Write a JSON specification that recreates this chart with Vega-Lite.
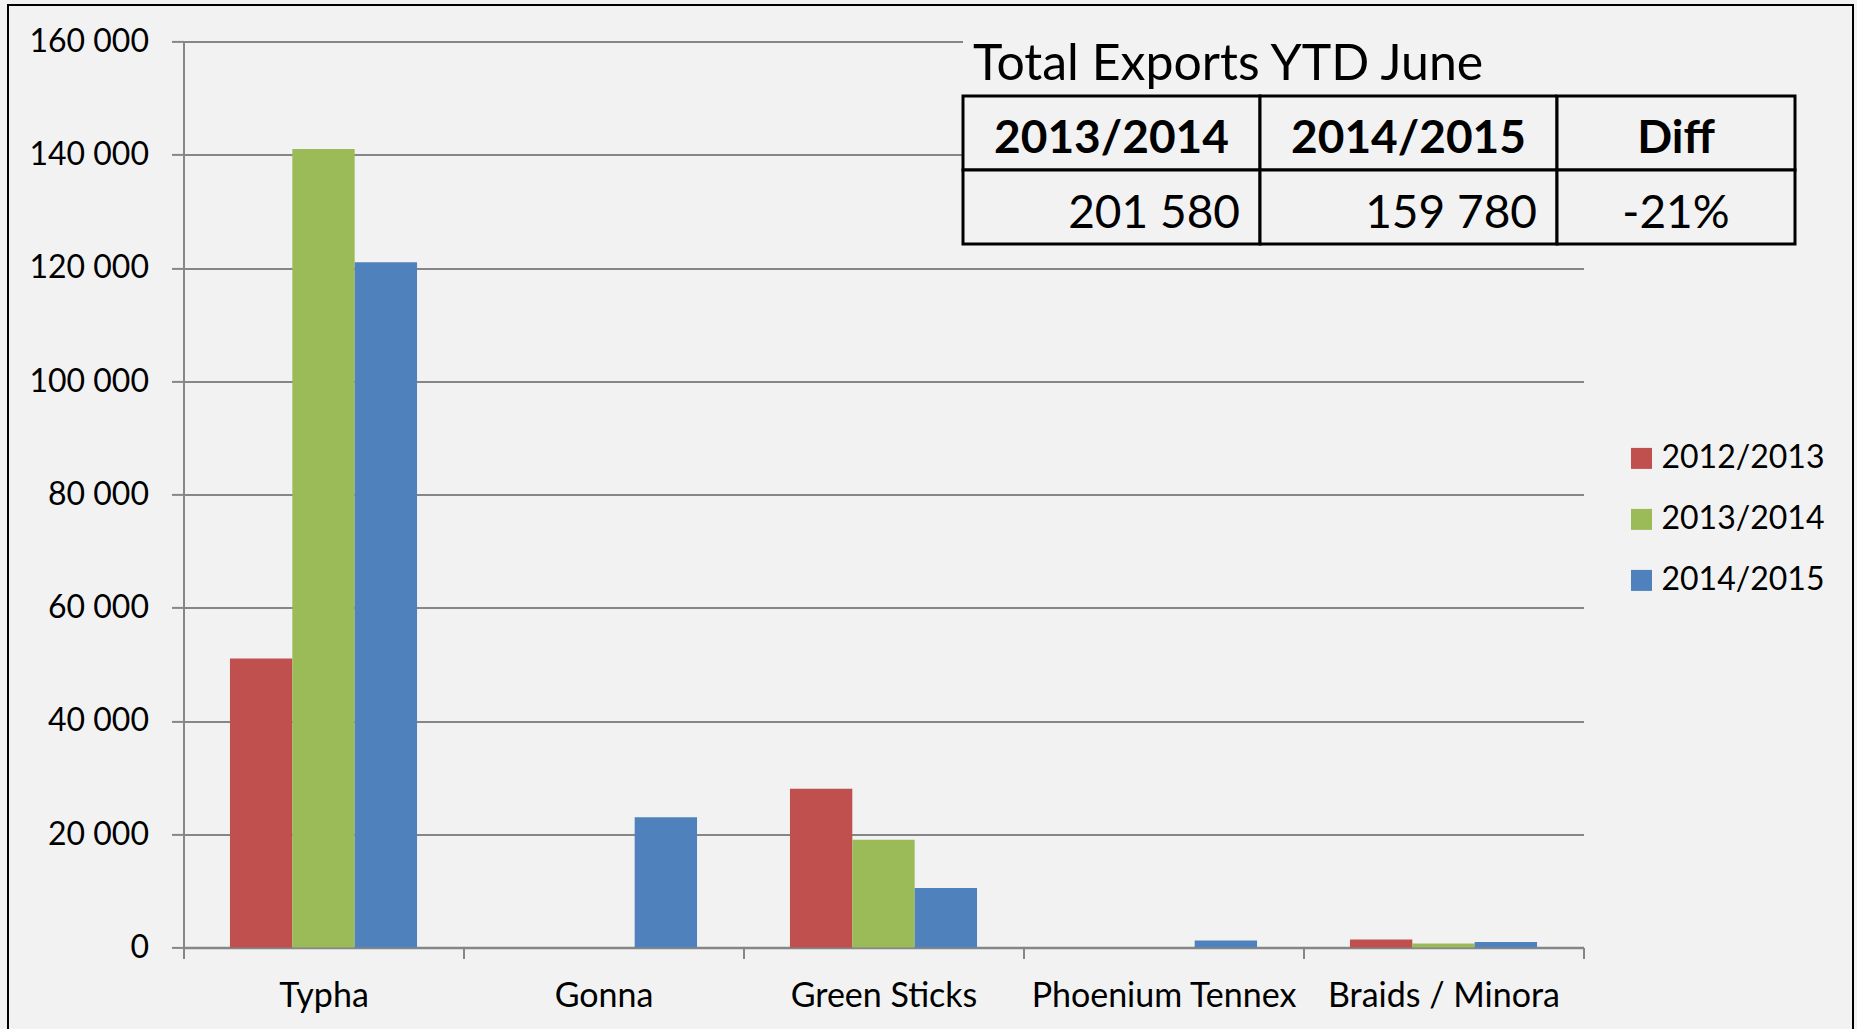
{
  "$schema": "https://vega.github.io/schema/vega-lite/v6.json",
  "autosize": "none",
  "width": 1400,
  "height": 906,
  "padding": {"left": 183.5, "top": 41.4, "right": 273.5, "bottom": 81.6},
  "background": "#f2f2f2",
  "config": {
    "view": {"stroke": null},
    "font": "Lato",
    "axis": {"labelFont": "Lato", "labelColor": "#000000"},
    "legend": {"labelFont": "Lato", "labelColor": "#000000"}
  },
  "datasets": {
    "bars": [
      {"category": "Typha", "season": "2012/2013", "exports": 51000},
      {"category": "Typha", "season": "2013/2014", "exports": 141000},
      {"category": "Typha", "season": "2014/2015", "exports": 121000},
      {"category": "Gonna", "season": "2012/2013", "exports": 0},
      {"category": "Gonna", "season": "2013/2014", "exports": 0},
      {"category": "Gonna", "season": "2014/2015", "exports": 23000},
      {"category": "Green Sticks", "season": "2012/2013", "exports": 28000},
      {"category": "Green Sticks", "season": "2013/2014", "exports": 19000},
      {"category": "Green Sticks", "season": "2014/2015", "exports": 10500},
      {"category": "Phoenium Tennex", "season": "2012/2013", "exports": 0},
      {"category": "Phoenium Tennex", "season": "2013/2014", "exports": 0},
      {"category": "Phoenium Tennex", "season": "2014/2015", "exports": 1200},
      {"category": "Braids / Minora", "season": "2012/2013", "exports": 1400},
      {"category": "Braids / Minora", "season": "2013/2014", "exports": 700},
      {"category": "Braids / Minora", "season": "2014/2015", "exports": 950}
    ],
    "table": [
      {"row": "title", "col": "2013/2014", "text": "Total Exports YTD June"},
      {"row": "title", "col": "2014/2015", "text": ""},
      {"row": "title", "col": "Diff", "text": ""},
      {"row": "header", "col": "2013/2014", "text": "2013/2014"},
      {"row": "header", "col": "2014/2015", "text": "2014/2015"},
      {"row": "header", "col": "Diff", "text": "Diff"},
      {"row": "value", "col": "2013/2014", "text": "201 580"},
      {"row": "value", "col": "2014/2015", "text": "159 780"},
      {"row": "value", "col": "Diff", "text": "-21%"}
    ],
    "frame": [{"name": "chart area"}]
  },
  "layer": [
    {
      "data": {"name": "bars"},
      "mark": {"type": "bar"},
      "encoding": {
        "x": {
          "field": "category", "type": "nominal", "title": null,
          "sort": ["Typha", "Gonna", "Green Sticks", "Phoenium Tennex", "Braids / Minora"],
          "scale": {"paddingInner": 0, "paddingOuter": 0},
          "axis": {
            "labelFontSize": 34, "labelAngle": 0, "labelPadding": 21, "labelLimit": 500,
            "tickBand": "extent", "tickSize": 11, "tickColor": "#868686", "tickWidth": 2,
            "domainColor": "#868686", "domainWidth": 2.5, "grid": false
          }
        },
        "xOffset": {"field": "season", "type": "nominal", "sort": ["2012/2013", "2013/2014", "2014/2015"],
                    "scale": {"paddingInner": 0, "paddingOuter": 0.745}},
        "y": {
          "field": "exports", "type": "quantitative", "title": null,
          "scale": {"domain": [0, 160000], "nice": false},
          "axis": {
            "values": [0, 20000, 40000, 60000, 80000, 100000, 120000, 140000, 160000],
            "labelExpr": "replace(format(datum.value, ','), ',', ' ')",
            "labelFontSize": 32, "labelPadding": 23,
            "tickSize": 12, "tickColor": "#868686", "tickWidth": 2,
            "domainColor": "#868686", "domainWidth": 2,
            "grid": true, "gridColor": "#868686", "gridWidth": 2
          }
        },
        "color": {
          "field": "season", "type": "nominal",
          "scale": {"domain": ["2012/2013", "2013/2014", "2014/2015"], "range": ["#C0504D", "#9BBB59", "#4F81BD"]},
          "legend": {
            "title": null, "orient": "none", "legendX": 1442, "legendY": 401,
            "symbolType": "square", "symbolSize": 441, "symbolStrokeWidth": 0,
            "labelFontSize": 32, "rowPadding": 29, "labelOffset": 4, "padding": 0, "labelLimit": 400
          }
        }
      }
    },
    {
      "data": {"name": "table"},
      "layer": [
        {
          "transform": [{"filter": "datum.col !== 'Diff'"}],
          "encoding": {
            "x": {"field": "col", "type": "nominal", "axis": null,
                  "scale": {"domain": ["2013/2014", "2014/2015"], "range": [779.5, 1373.5], "paddingInner": 0, "paddingOuter": 0}},
            "y": {"field": "row", "type": "nominal", "axis": null,
                  "scale": {"domain": ["title", "header", "value"], "range": [-19.4, 202.6], "paddingInner": 0, "paddingOuter": 0}}
          },
          "layer": [
            {
              "transform": [{"filter": "datum.row === 'title'"}],
              "mark": {"type": "rect", "fill": "#f2f2f2", "strokeWidth": 0}
            },
            {
              "transform": [{"filter": "datum.row !== 'title'"}],
              "mark": {"type": "rect", "fill": "#f2f2f2", "stroke": "#000000", "strokeWidth": 3}
            },
            {
              "transform": [{"filter": "datum.row === 'header'"}],
              "mark": {"type": "text", "font": "Lato", "fontWeight": "bold", "fontSize": 46, "align": "center", "baseline": "alphabetic", "dy": -17, "color": "#000000"},
              "encoding": {"text": {"field": "text"}, "y": {"field": "row", "type": "nominal", "bandPosition": 1}}
            },
            {
              "transform": [{"filter": "datum.row === 'value'"}],
              "mark": {"type": "text", "font": "Lato", "fontSize": 46, "align": "right", "baseline": "alphabetic", "dx": -20, "dy": -16, "color": "#000000"},
              "encoding": {"text": {"field": "text"}, "x": {"field": "col", "type": "nominal", "bandPosition": 1}, "y": {"field": "row", "type": "nominal", "bandPosition": 1}}
            },
            {
              "transform": [{"filter": "datum.row === 'title' && datum.text !== ''"}],
              "mark": {"type": "text", "font": "Lato", "fontSize": 50, "align": "left", "baseline": "alphabetic", "dx": 10, "dy": -16, "color": "#000000"},
              "encoding": {"text": {"field": "text"}, "x": {"field": "col", "type": "nominal", "bandPosition": 0}, "y": {"field": "row", "type": "nominal", "bandPosition": 1}}
            }
          ]
        },
        {
          "transform": [{"filter": "datum.col === 'Diff'"}],
          "encoding": {
            "x": {"field": "col", "type": "nominal", "axis": null,
                  "scale": {"domain": ["Diff"], "range": [1373.5, 1611.5], "paddingInner": 0, "paddingOuter": 0}},
            "y": {"field": "row", "type": "nominal", "axis": null,
                  "scale": {"domain": ["title", "header", "value"], "range": [-19.4, 202.6], "paddingInner": 0, "paddingOuter": 0}}
          },
          "layer": [
            {
              "transform": [{"filter": "datum.row === 'title'"}],
              "mark": {"type": "rect", "fill": "#f2f2f2", "strokeWidth": 0}
            },
            {
              "transform": [{"filter": "datum.row !== 'title'"}],
              "mark": {"type": "rect", "fill": "#f2f2f2", "stroke": "#000000", "strokeWidth": 3}
            },
            {
              "transform": [{"filter": "datum.row === 'header'"}],
              "mark": {"type": "text", "font": "Lato", "fontWeight": "bold", "fontSize": 46, "align": "center", "baseline": "alphabetic", "dy": -17, "color": "#000000"},
              "encoding": {"text": {"field": "text"}, "y": {"field": "row", "type": "nominal", "bandPosition": 1}}
            },
            {
              "transform": [{"filter": "datum.row === 'value'"}],
              "mark": {"type": "text", "font": "Lato", "fontSize": 46, "align": "center", "baseline": "alphabetic", "dy": -16, "color": "#000000"},
              "encoding": {"text": {"field": "text"}, "y": {"field": "row", "type": "nominal", "bandPosition": 1}}
            }
          ]
        }
      ],
      "resolve": {"scale": {"x": "independent"}}
    },
    {
      "data": {"name": "frame"},
      "mark": {"type": "rect", "fill": null, "fillOpacity": 0, "stroke": "#000000", "strokeWidth": 2},
      "encoding": {
        "x": {"datum": 0, "type": "quantitative", "axis": null, "scale": {"domain": [0, 1], "range": [-175.5, 1669.5]}},
        "x2": {"datum": 1},
        "y": {"datum": 0, "type": "quantitative", "axis": null, "scale": {"domain": [0, 1], "range": [-36.4, 1000]}},
        "y2": {"datum": 1}
      }
    }
  ],
  "resolve": {"scale": {"x": "independent", "y": "independent"}}
}
